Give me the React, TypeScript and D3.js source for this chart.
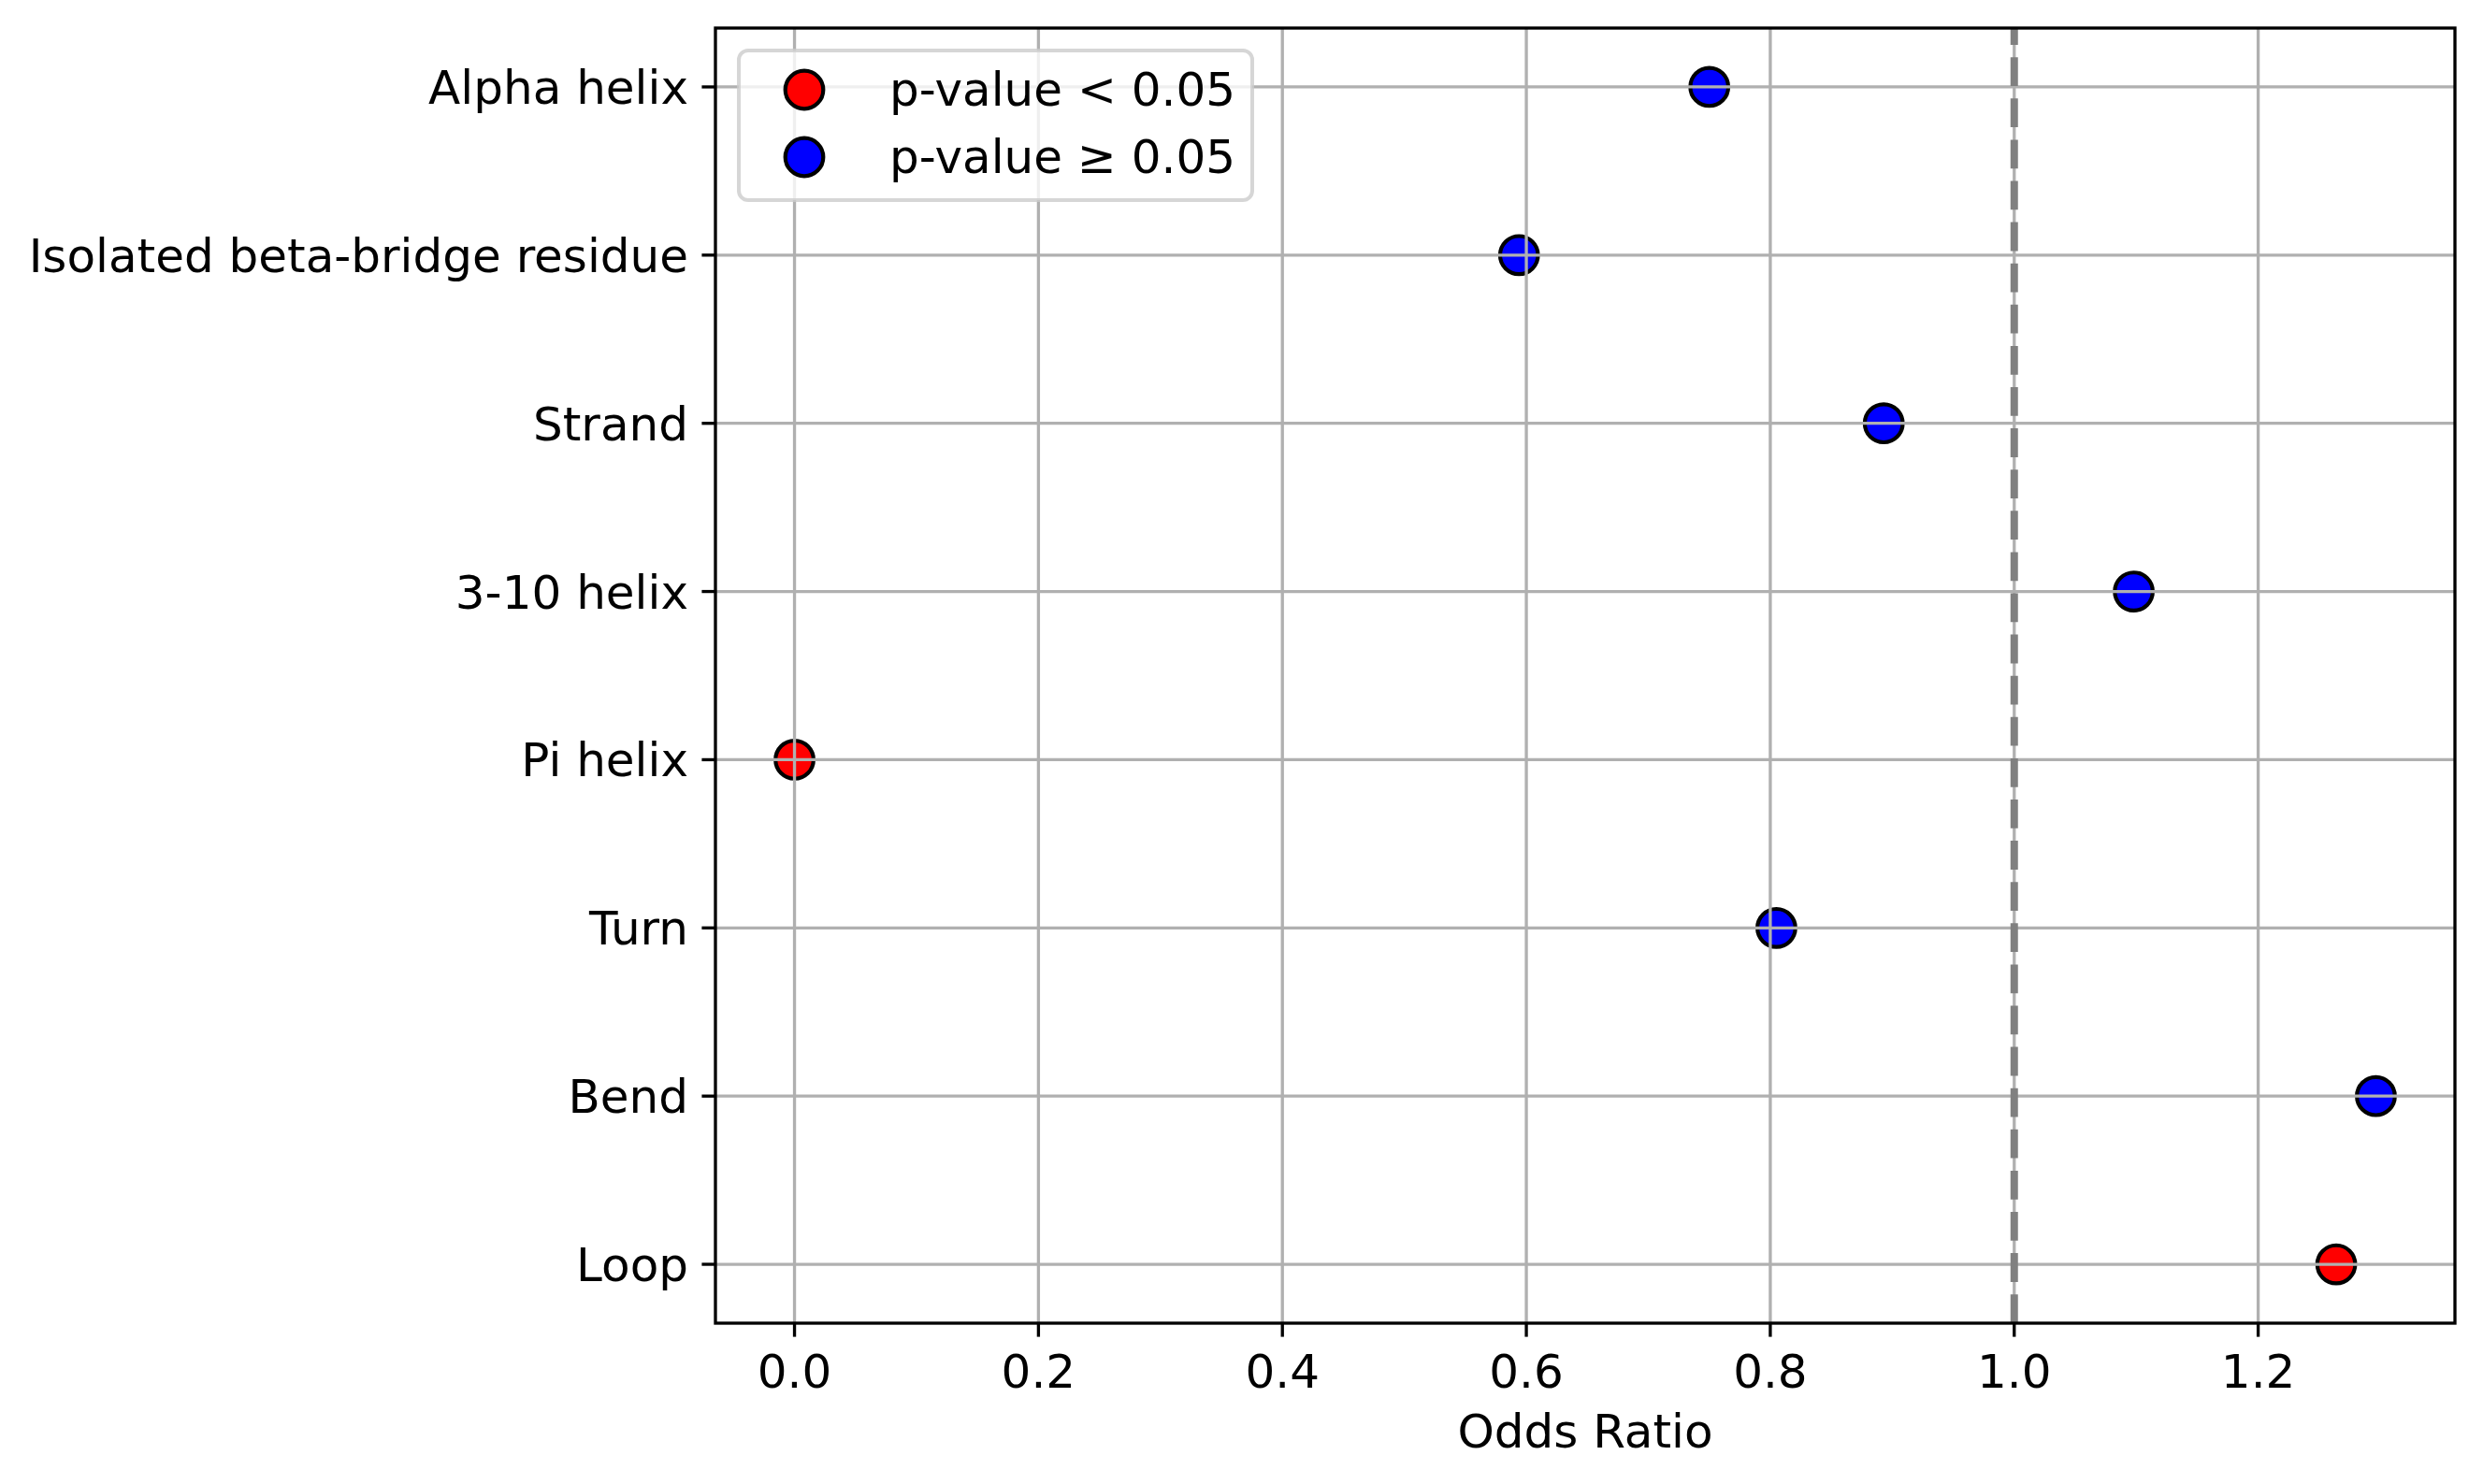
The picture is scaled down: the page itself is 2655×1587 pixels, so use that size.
import React, { useEffect, useRef } from "react";
import * as d3 from "d3";

const categories = [
  "Alpha helix",
  "Isolated beta-bridge residue",
  "Strand",
  "3-10 helix",
  "Pi helix",
  "Turn",
  "Bend",
  "Loop",
];
const oddsRatios = [0.75, 0.594, 0.893, 1.098, 0.0, 0.805, 1.2965, 1.264];
const significant = [false, false, false, false, true, false, false, true];
const xTicks = [0, 0.2, 0.4, 0.6, 0.8, 1.0, 1.2];
const legendLabels = ["p-value < 0.05", "p-value \u2265 0.05"];
const legendColors = ["red", "blue"];

export default function App() {
  const ref = useRef<SVGSVGElement | null>(null);

  useEffect(() => {
    document.body.style.margin = "0";
    const svg = d3.select(ref.current);
    svg.selectAll("*").remove();

    const W = 2655;
    const H = 1587;
    const left = 765;
    const right = 2625;
    const top = 30;
    const bottom = 1415;
    const font = "'DejaVu Sans', sans-serif";
    const lw = 3.33;

    svg.append("rect").attr("width", W).attr("height", H).attr("fill", "white");

    // matplotlib-like 5% margins
    const maxV = d3.max(oddsRatios) as number;
    const minV = d3.min(oddsRatios) as number;
    const span = maxV - minV;
    const x = d3
      .scaleLinear()
      .domain([minV - 0.05 * span, maxV + 0.05 * span])
      .range([left, right]);
    const y = d3
      .scalePoint()
      .domain(categories)
      .range([top, bottom])
      .padding(0.35);

    const rows = categories.map((c, i) => ({
      cat: c,
      v: oddsRatios[i],
      sig: significant[i],
    }));

    // points (below grid, like matplotlib)
    svg
      .append("g")
      .selectAll("circle")
      .data(rows)
      .enter()
      .append("circle")
      .attr("cx", (d) => x(d.v))
      .attr("cy", (d) => y(d.cat) as number)
      .attr("r", 20.3)
      .attr("fill", (d) => (d.sig ? "red" : "blue"))
      .attr("stroke", "black")
      .attr("stroke-width", 4.2);

    // grid
    const grid = svg.append("g").attr("stroke", "#b0b0b0").attr("stroke-width", lw);
    grid
      .selectAll(".gx")
      .data(xTicks)
      .enter()
      .append("line")
      .attr("x1", (d) => x(d))
      .attr("x2", (d) => x(d))
      .attr("y1", top)
      .attr("y2", bottom);
    grid
      .selectAll(".gy")
      .data(categories)
      .enter()
      .append("line")
      .attr("x1", left)
      .attr("x2", right)
      .attr("y1", (d) => y(d) as number)
      .attr("y2", (d) => y(d) as number);

    // reference line at OR = 1
    svg
      .append("line")
      .attr("x1", x(1))
      .attr("x2", x(1))
      .attr("y1", bottom)
      .attr("y2", top)
      .attr("stroke", "#808080")
      .attr("stroke-width", 8)
      .attr("stroke-dasharray", "30.8 13.3");

    // spines
    svg
      .append("rect")
      .attr("x", left)
      .attr("y", top)
      .attr("width", right - left)
      .attr("height", bottom - top)
      .attr("fill", "none")
      .attr("stroke", "black")
      .attr("stroke-width", lw);

    // x ticks
    const xt = svg.append("g");
    xTicks.forEach((t) => {
      xt.append("line")
        .attr("x1", x(t))
        .attr("x2", x(t))
        .attr("y1", bottom)
        .attr("y2", bottom + 14.6)
        .attr("stroke", "black")
        .attr("stroke-width", lw);
      xt.append("text")
        .attr("x", x(t))
        .attr("y", 1484)
        .attr("text-anchor", "middle")
        .style("font-family", font)
        .style("font-size", "50px")
        .text(d3.format(".1f")(t));
    });

    // y ticks
    const yt = svg.append("g");
    categories.forEach((c) => {
      const yy = y(c) as number;
      yt.append("line")
        .attr("x1", left - 14.6)
        .attr("x2", left)
        .attr("y1", yy)
        .attr("y2", yy)
        .attr("stroke", "black")
        .attr("stroke-width", lw);
      yt.append("text")
        .attr("x", 736)
        .attr("y", yy + 18)
        .attr("text-anchor", "end")
        .style("font-family", font)
        .style("font-size", "50px")
        .text(c);
    });

    // x label
    svg
      .append("text")
      .attr("x", (left + right) / 2)
      .attr("y", 1548)
      .attr("text-anchor", "middle")
      .style("font-family", font)
      .style("font-size", "50px")
      .text("Odds Ratio");

    // legend
    const lg = svg.append("g");
    lg.append("rect")
      .attr("x", 790)
      .attr("y", 54)
      .attr("width", 549)
      .attr("height", 160)
      .attr("rx", 10)
      .attr("fill", "white")
      .attr("fill-opacity", 0.8)
      .attr("stroke", "#cccccc")
      .attr("stroke-opacity", 0.8)
      .attr("stroke-width", 4);
    legendLabels.forEach((lab, i) => {
      const ly = 96 + i * 72;
      lg.append("circle")
        .attr("cx", 860)
        .attr("cy", ly)
        .attr("r", 20.3)
        .attr("fill", legendColors[i])
        .attr("stroke", "black")
        .attr("stroke-width", 4.2);
      lg.append("text")
        .attr("x", 951)
        .attr("y", ly + 17)
        .style("font-family", font)
        .style("font-size", "50px")
        .text(lab);
    });
  }, []);

  return <svg ref={ref} width={2655} height={1587} style={{ display: "block" }} />;
}
